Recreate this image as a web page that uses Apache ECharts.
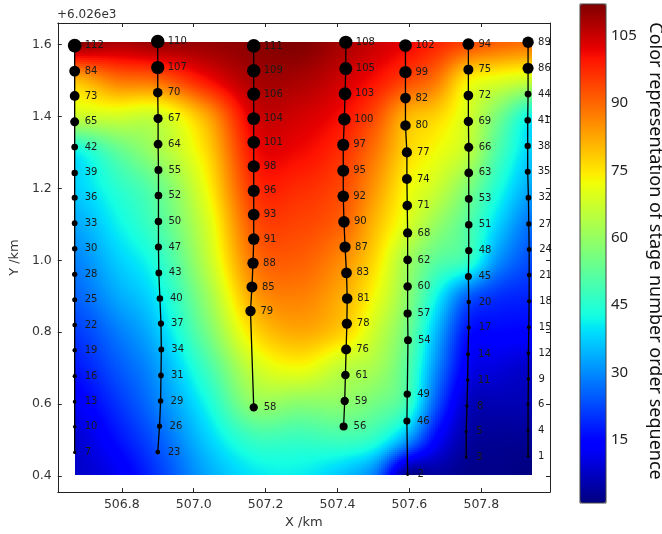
<!DOCTYPE html>
<html>
<head>
<meta charset="utf-8">
<script src="https://cdn.jsdelivr.net/npm/echarts@6/dist/echarts.min.js"></script>
<style>
  html, body { margin: 0; padding: 0; background: #fff; }
  #chart { width: 662px; height: 534px; }
</style>
</head>
<body>
<div id="chart"></div>
<script>
// ---- Well traces: X (km), Y (km, offset +6.026e3) and stage number at each point ----
const well1X = [506.669,506.669,506.669,506.669,506.669,506.669,506.669,506.669,506.669,506.669,506.669,506.669,506.669,506.669,506.669,506.669,506.669];
const well1Y = [1.597,1.526,1.457,1.385,1.315,1.243,1.174,1.103,1.032,0.961,0.890,0.820,0.750,0.678,0.607,0.537,0.466];
const well1Stage = [112,84,73,65,42,39,36,33,30,28,25,22,19,16,13,10,7];

const well2X = [506.900,506.900,506.900,506.901,506.901,506.902,506.902,506.902,506.902,506.903,506.906,506.909,506.910,506.909,506.908,506.905,506.900];
const well2Y = [1.608,1.536,1.466,1.394,1.323,1.251,1.180,1.108,1.037,0.965,0.894,0.824,0.752,0.680,0.609,0.539,0.467];
const well2Stage = [110,107,70,67,64,55,52,50,47,43,40,37,34,31,29,26,23];

const well3X = [507.167,507.167,507.167,507.167,507.167,507.167,507.167,507.167,507.167,507.165,507.162,507.158,507.167];
const well3Y = [1.596,1.527,1.462,1.394,1.328,1.261,1.193,1.127,1.059,0.992,0.926,0.859,0.591];
const well3Stage = [111,109,106,104,101,98,96,93,91,88,85,79,58];

const well4X = [507.423,507.423,507.421,507.419,507.416,507.416,507.416,507.418,507.421,507.425,507.427,507.426,507.424,507.422,507.420,507.417];
const well4Y = [1.606,1.533,1.463,1.392,1.321,1.249,1.178,1.107,1.037,0.965,0.894,0.824,0.752,0.681,0.609,0.538];
const well4Stage = [108,105,103,100,97,95,92,90,87,83,81,78,76,61,59,56];

const well5X = [507.589,507.589,507.589,507.589,507.593,507.593,507.594,507.595,507.595,507.595,507.595,507.596,507.594,507.593,507.595];
const well5Y = [1.597,1.523,1.451,1.375,1.300,1.226,1.152,1.076,1.001,0.927,0.852,0.778,0.628,0.553,0.404];
const well5Stage = [102,99,82,80,77,74,71,68,62,60,57,54,49,46,2];

const well6X = [507.764,507.764,507.764,507.764,507.765,507.765,507.765,507.765,507.765,507.764,507.765,507.765,507.763,507.762,507.760,507.758,507.758];
const well6Y = [1.601,1.530,1.458,1.386,1.314,1.243,1.171,1.099,1.027,0.955,0.884,0.813,0.739,0.667,0.595,0.524,0.452];
const well6Stage = [94,75,72,69,66,63,53,51,48,45,20,17,14,11,8,5,3];

const well7X = [507.930,507.930,507.930,507.929,507.929,507.929,507.931,507.932,507.933,507.933,507.933,507.932,507.931,507.931,507.930,507.930,507.930];
const well7Y = [1.606,1.534,1.462,1.389,1.318,1.246,1.174,1.101,1.030,0.959,0.886,0.814,0.742,0.670,0.600,0.527,0.455];
const well7Stage = [89,86,44,41,38,35,32,27,24,21,18,15,12,9,6,4,1];

// ---- Stage-order surface sampled on a grid (columns = X nodes, rows = Y nodes, bottom to top) ----
const fieldX = [506.669,506.785,506.900,507.035,507.167,507.295,507.422,507.505,507.592,507.675,507.762,507.845,507.940];
const fieldY = [0.404,0.5,0.6,0.7,0.8,0.9,1.0,1.1,1.2,1.3,1.4,1.5,1.608];
const fieldZ = [
  [8,   12, 21,   33, 40,   41, 36,   28, 3,    4,  2,    2,  1],
  [8.5, 16, 24.5, 37, 47,   47, 48,   45, 32,   14, 4.3,  3,  3],
  [12.7,20, 28.8, 42, 59,   58, 58.4, 55, 48,   24, 7.5,  6,  6],
  [17,  24, 32,   48, 67,   72, 65,   62, 51.5, 30, 12.5, 10, 8],
  [21,  28, 36.3, 55, 76,   82, 77,   67, 55,   35, 16.5, 15, 14.5],
  [25.5,33, 40.5, 60, 83,   87, 81,   72, 59,   42, 25.5, 20, 18.5],
  [29,  37, 45,   65, 88.4, 91, 85,   76, 62,   52, 47,   31, 23],
  [33,  41, 50,   68, 92.3, 94, 90,   80, 69.5, 60, 51,   38, 27],
  [37.5,45, 53.5, 72, 96.3, 97, 93,   84, 73,   67, 57,   44, 33],
  [41,  52, 61.6, 76, 100,  101,96,   88, 77,   72, 65.5, 50, 37.3],
  [67,  68, 67.5, 82, 103.6,104,100,  93, 81,   77, 68.5, 56, 41.5],
  [80,  88, 90,   100,108,  108,104,  100,94,   88, 74,   70, 67],
  [112, 108,110,  110,111,  112,108,  105,102,  98, 94,   91, 89]
];

// Axis ticks
const xTicks = [506.8, 507.0, 507.2, 507.4, 507.6, 507.8];
const yTicks = [0.4, 0.6, 0.8, 1.0, 1.2, 1.4, 1.6];
const colorTicks = [15, 30, 45, 60, 75, 90, 105];
const stageMin = 1, stageMax = 112;

// ---- jet colormap ----
const JR = [[0,0],[0.35,0],[0.66,1],[0.89,1],[1,0.5]];
const JG = [[0,0],[0.125,0],[0.375,1],[0.64,1],[0.91,0],[1,0]];
const JB = [[0,0.5],[0.11,1],[0.34,1],[0.65,0],[1,0]];
function seg(pts, t) {
  for (let k = 1; k < pts.length; k++) {
    if (t <= pts[k][0]) {
      const a = pts[k - 1], b = pts[k];
      return a[1] + (b[1] - a[1]) * (t - a[0]) / (b[0] - a[0]);
    }
  }
  return pts[pts.length - 1][1];
}
function jet(t) {
  t = Math.max(0, Math.min(1, t));
  return 'rgb(' + Math.round(255 * seg(JR, t)) + ',' + Math.round(255 * seg(JG, t)) + ',' + Math.round(255 * seg(JB, t)) + ')';
}
function stageColor(v) { return jet((v - stageMin) / (stageMax - stageMin)); }
const jetStops = [];
for (let k = 0; k <= 100; k++) jetStops.push(jet(k / 100));

// ---- smooth shading of the sampled surface inside each grid cell ----
function clampIdx(k, n) { return Math.max(0, Math.min(n - 1, k)); }
function cr(p0, p1, p2, p3, t) {
  return 0.5 * (2 * p1 + (-p0 + p2) * t + (2 * p0 - 5 * p1 + 4 * p2 - p3) * t * t + (-p0 + 3 * p1 - 3 * p2 + p3) * t * t * t);
}
function surfaceAt(i, j, u, w) {
  const nx = fieldX.length, ny = fieldY.length;
  const rows = [];
  for (let dj = -1; dj <= 2; dj++) {
    const r = fieldZ[clampIdx(j + dj, ny)];
    rows.push(cr(r[clampIdx(i - 1, nx)], r[i], r[i + 1], r[clampIdx(i + 2, nx)], u));
  }
  const v = cr(rows[0], rows[1], rows[2], rows[3], w);
  return Math.max(stageMin, Math.min(stageMax, v));
}

const fieldCells = [];
for (let j = 0; j < fieldY.length - 1; j++) {
  for (let i = 0; i < fieldX.length - 1; i++) {
    fieldCells.push([fieldX[i], fieldY[j], i, j, fieldZ[j][i]]);
  }
}

function renderCell(params, api) {
  const i = api.value(2), j = api.value(3);
  const p0 = api.coord([fieldX[i], fieldY[j]]);
  const p1 = api.coord([fieldX[i + 1], fieldY[j + 1]]);
  const xa0 = Math.round(p0[0]), xb0 = Math.round(p1[0]);
  const yBot = Math.round(p0[1]), yTop = Math.round(p1[1]);
  const step = 2;
  const children = [];
  for (let px = xa0; px < xb0; px += step) {
    const pw = Math.min(step, xb0 - px);
    const u = (px + pw / 2 - p0[0]) / (p1[0] - p0[0]);
    for (let py = yTop; py < yBot; py += step) {
      const ph = Math.min(step, yBot - py);
      const w = (p0[1] - (py + ph / 2)) / (p0[1] - p1[1]);
      const v = surfaceAt(i, j, Math.max(0, Math.min(1, u)), Math.max(0, Math.min(1, w)));
      children.push({
        type: 'rect',
        shape: { x: px, y: py, width: pw, height: ph },
        style: { fill: stageColor(v) }
      });
    }
  }
  return { type: 'group', children: children };
}

// ---- well series ----
const wells = [
  [well1X, well1Y, well1Stage],
  [well2X, well2Y, well2Stage],
  [well3X, well3Y, well3Stage],
  [well4X, well4Y, well4Stage],
  [well5X, well5Y, well5Stage],
  [well6X, well6Y, well6Stage],
  [well7X, well7Y, well7Stage]
];
const wellSeries = wells.map(function (w, k) {
  return {
    type: 'line',
    name: 'well' + (k + 1),
    xAxisIndex: 0,
    yAxisIndex: 0,
    z: 5,
    silent: true,
    data: w[0].map(function (x, n) { return [x, w[1][n], w[2][n]]; }),
    symbol: 'circle',
    symbolSize: function (val) { return 2.5 + val[2] * 0.1; },
    itemStyle: { color: '#000' },
    lineStyle: { color: '#000', width: 1.3 },
    label: {
      show: true,
      position: 'inside',
      align: 'left',
      verticalAlign: 'middle',
      offset: [10, 0],
      formatter: function (p) { return p.value[2]; },
      fontFamily: 'DejaVu Sans',
      fontSize: 10,
      color: '#1a1a1a'
    }
  };
});

const axisFont = { fontFamily: 'DejaVu Sans', fontSize: 12.5, color: '#333' };
const spine = { show: true, lineStyle: { color: '#222', width: 1 } };

const chart = echarts.init(document.getElementById('chart'), null, { renderer: 'canvas' });
chart.setOption({
  animation: false,
  backgroundColor: '#fff',
  grid: [
    { left: 56, top: 23, width: 494, height: 470 },
    { left: 580, top: 4, width: 26, height: 499, show: true, z: 10, borderColor: '#444', borderWidth: 1, backgroundColor: 'transparent' }
  ],
  xAxis: [
    {
      type: 'value', gridIndex: 0, position: 'bottom', min: 506.622, max: 507.991,
      axisLine: spine,
      axisTick: { show: true, inside: true, length: 4, customValues: xTicks, lineStyle: { color: '#222' } },
      axisLabel: Object.assign({ customValues: xTicks, margin: 6, formatter: function (v) { return v.toFixed(1); } }, axisFont),
      splitLine: { show: false },
      name: 'X /km', nameLocation: 'middle', nameGap: 22,
      nameTextStyle: { fontFamily: 'DejaVu Sans', fontSize: 13, color: '#333' }
    },
    {
      type: 'value', gridIndex: 0, position: 'top', min: 506.622, max: 507.991,
      axisLine: spine,
      axisTick: { show: true, inside: true, length: 4, customValues: xTicks, lineStyle: { color: '#222' } },
      axisLabel: { show: false }, splitLine: { show: false }
    },
    { type: 'value', gridIndex: 1, min: 0, max: 1, show: false }
  ],
  yAxis: [
    {
      type: 'value', gridIndex: 0, position: 'left', min: 0.3556, max: 1.6597,
      axisLine: spine,
      axisTick: { show: true, inside: true, length: 4, customValues: yTicks, lineStyle: { color: '#222' } },
      axisLabel: Object.assign({ customValues: yTicks, margin: 6, formatter: function (v) { return v.toFixed(1); } }, axisFont),
      splitLine: { show: false },
      name: 'Y /km', nameLocation: 'middle', nameGap: 31, nameRotate: 90,
      nameTextStyle: { fontFamily: 'DejaVu Sans', fontSize: 13, color: '#333' }
    },
    {
      type: 'value', gridIndex: 0, position: 'right', min: 0.3556, max: 1.6597,
      axisLine: spine,
      axisTick: { show: true, inside: true, length: 4, customValues: yTicks, lineStyle: { color: '#222' } },
      axisLabel: { show: false }, splitLine: { show: false }
    },
    {
      type: 'value', gridIndex: 1, position: 'right', min: stageMin, max: stageMax,
      axisLine: { show: false },
      axisTick: { show: true, inside: false, length: 3, customValues: colorTicks, lineStyle: { color: '#333' } },
      axisLabel: { customValues: colorTicks, margin: 5, fontFamily: 'Noto Sans', fontSize: 15, color: '#222' },
      splitLine: { show: false }
    }
  ],
  visualMap: {
    type: 'continuous',
    min: stageMin, max: stageMax,
    dimension: 4,
    seriesIndex: 0,
    calculable: false,
    orient: 'vertical',
    left: 580, top: 4,
    itemWidth: 26, itemHeight: 499,
    padding: 0,
    text: null,
    inRange: { color: jetStops }
  },
  graphic: [
    {
      type: 'text', x: 57, y: 15,
      style: { text: '+6.026e3', font: '12px "DejaVu Sans"', fill: '#333', align: 'left', verticalAlign: 'middle' }
    },
    {
      type: 'text', x: 655, y: 251, rotation: -Math.PI / 2,
      style: { text: 'Color representation of stage number order sequence', font: '18px "Noto Sans"', fill: '#111', align: 'center', verticalAlign: 'middle' }
    }
  ],
  series: [
    {
      type: 'custom',
      name: 'stage surface',
      xAxisIndex: 0, yAxisIndex: 0,
      z: 1,
      silent: true,
      clip: true,
      encode: { x: 0, y: 1 },
      data: fieldCells,
      renderItem: renderCell
    }
  ].concat(wellSeries)
});
</script>
</body>
</html>
